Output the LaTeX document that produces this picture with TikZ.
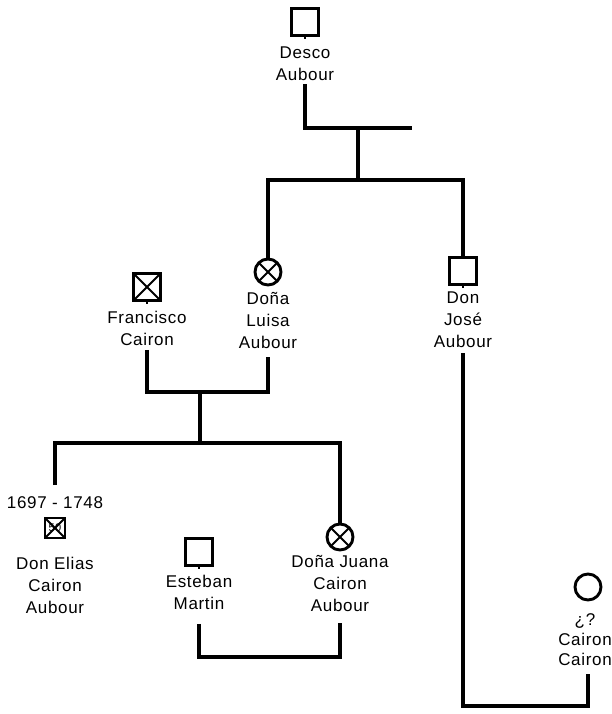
\documentclass[tikz,border=0pt]{standalone}
\usepackage{fontspec}
\setmainfont{Liberation Sans}[LetterSpace=4]
\usetikzlibrary{positioning}

\begin{document}
\begin{tikzpicture}[x=1pt, y=-1pt,
        % Symbols for the persons (square = man, circle = woman)
        person/.style={draw, line width=2.9pt, inner sep=0pt},
        male/.style={person, rectangle, minimum size=27pt},
        female/.style={person, circle, minimum size=26pt},
        % Cross inside the symbol of a deceased person
        deceased/.style={path picture={
            \draw[line width=2pt]
                (path picture bounding box.north west) -- (path picture bounding box.south east)
                (path picture bounding box.north east) -- (path picture bounding box.south west);}},
        % Text under each symbol
        persontext/.style={font=\fontsize{17}{22}\selectfont, align=center, inner sep=1pt},
        % Family lines
        kinline/.style={line width=3.3pt}
    ]
    \useasboundingbox (0,0) rectangle (611,714);

    % --- Generation 1 ---
    \node[male] (desco) at (305,22) {};
    \node[persontext, below=9pt of desco] (desco_name) {Desco\\Aubour};

    % --- Generation 2 ---
    \node[female, deceased] (luisa) at (268,272) {};
    \node[persontext, below=5pt of luisa] (luisa_name) {Doña\\Luisa\\Aubour};

    \node[male] (jose) at (463,271) {};
    \node[persontext, below=5pt of jose] (jose_name) {Don\\José\\Aubour};

    \node[male, deceased] (francisco) at (147,287) {};
    \node[persontext, below=8pt of francisco] (francisco_name) {Francisco\\Cairon};

    % --- Generation 3 ---
    \node[male, deceased, minimum size=20pt, font=\fontsize{11}{11}\selectfont] (elias) at (55,528) {50};
    \node[persontext, above=7pt of elias] (elias_date) {1697 - 1748};
    \node[persontext, below=17pt of elias] (elias_name) {Don Elias\\Cairon\\Aubour};

    \node[male] (esteban) at (199,552) {};
    \node[persontext, below=7pt of esteban] (esteban_name) {Esteban\\Martin};

    \node[female, deceased] (juana) at (340,537) {};
    \node[persontext, below=3pt of juana] (juana_name) {Doña Juana\\Cairon\\Aubour};

    \node[female] (cairon) at (588,587) {};
    \node[persontext, below=11pt of cairon, xshift=-3pt] (cairon_name) {¿?\\[-2pt]Cairon\\[-2pt]Cairon};

    % small stubs under the squares
    \foreach \p in {desco, jose, francisco, esteban}
        \draw[line width=1.6pt] (\p.south) -- ++(0,2);

    % --- Junction points ---
    \coordinate (desco_bar_end) at (412,128);
    \coordinate (desco_drop) at (358,128);
    \coordinate (desco_kids) at (358,180);
    \coordinate (parents_bar) at (200,392);
    \coordinate (sib_bar) at (200,443);
    \coordinate[above=10pt of elias_date] (elias_stem);
    \coordinate (spouse_bar) at (270,657);
    \coordinate (cousin_bar) at (525,706);

    % --- Lines ---
    \draw[kinline, shorten <=2pt] (desco_name.south) |- (desco_bar_end);
    \draw[kinline] (desco_drop) -- (desco_kids);
    \draw[kinline] (luisa.north) |- (desco_kids) -| (jose.north);

    \draw[kinline, shorten <=3pt, shorten >=7pt] (francisco_name.south) |- (parents_bar) -| (luisa_name.south);
    \draw[kinline] (parents_bar) -- (sib_bar);
    \draw[kinline] (elias_stem) |- (sib_bar) -| (juana.north);

    \draw[kinline, shorten <=13pt, shorten >=10pt] (esteban_name.south) |- (spouse_bar) -| (juana_name.south);
    \draw[kinline, shorten <=4pt, shorten >=7pt] (jose_name.south) |- (cousin_bar) -| ([xshift=3pt]cairon_name.south);

\end{tikzpicture}
\end{document}
